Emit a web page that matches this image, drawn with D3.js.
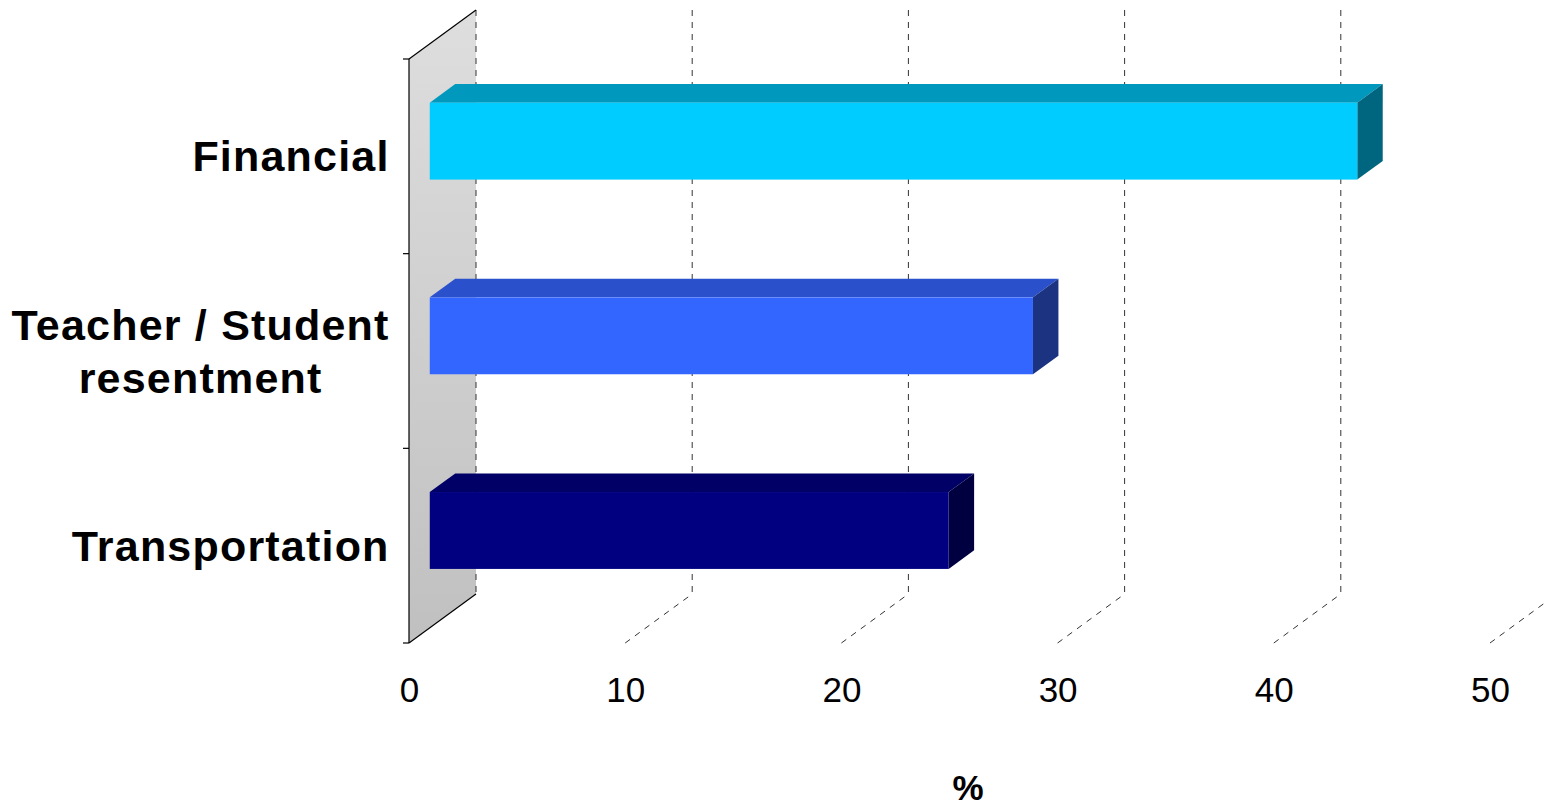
<!DOCTYPE html>
<html>
<head>
<meta charset="utf-8">
<script src="https://cdn.jsdelivr.net/npm/d3@7"></script>
<style>
  html, body { margin: 0; padding: 0; background: #ffffff; }
  svg { display: block; }
</style>
</head>
<body>
<svg id="chart" width="1548" height="808"></svg>
<script>
// ---- data ----
const categories = ["Financial", "Teacher / Student\nresentment", "Transportation"];
const values = [42.9, 27.9, 24];
const tickValues = [0, 10, 20, 30, 40, 50];
const axisTitle = "%";
const frontColors = ["#00CCFF", "#3366FF", "#000080"];
const topColors = ["#0099BD", "#2A50CC", "#000066"];
const sideColors = ["#006680", "#1B3380", "#000040"];

// ---- layout ----
const svg = d3.select("#chart");
const depth = { dx: 67, dy: -49 };
const f0 = 0.31, f1 = 0.69;
const plotTop = 59, plotBottom = 643;

const x = d3.scaleLinear().domain([0, 50]).range([409, 1490]);
const y = d3.scaleBand().domain(categories).range([plotTop, plotBottom]).padding(0);
const barH = y.bandwidth() * 0.395;

const defs = svg.append("defs");
const grad = defs.append("linearGradient").attr("id", "wallGrad")
  .attr("x1", 0).attr("y1", 0).attr("x2", 0).attr("y2", 1);
grad.append("stop").attr("offset", "0%").attr("stop-color", "#dedede");
grad.append("stop").attr("offset", "100%").attr("stop-color", "#c0c0c0");

// ---- left wall ----
const x0 = x(0);
svg.append("path")
  .attr("d", `M${x0},${plotTop} L${x0 + depth.dx},${plotTop + depth.dy} L${x0 + depth.dx},${plotBottom + depth.dy} L${x0},${plotBottom} Z`)
  .attr("fill", "url(#wallGrad)")
  .attr("stroke", "none");

// gridlines (back vertical + floor diagonal)
const grid = svg.append("g").attr("fill", "none").attr("stroke", "#333")
  .attr("stroke-width", 1).attr("stroke-dasharray", "6,6");
tickValues.forEach(v => {
  const bx = x(v) + depth.dx;
  grid.append("line")
    .attr("x1", bx).attr("y1", plotTop + depth.dy)
    .attr("x2", bx).attr("y2", plotBottom + depth.dy);
  if (v > 0) {
    grid.append("line")
      .attr("x1", x(v)).attr("y1", plotBottom)
      .attr("x2", bx).attr("y2", plotBottom + depth.dy);
  }
});

// wall edges
const wallEdges = svg.append("g").attr("stroke", "#000").attr("stroke-width", 1.2).attr("fill", "none");
wallEdges.append("line").attr("x1", x0).attr("y1", plotTop).attr("x2", x0).attr("y2", plotBottom);
wallEdges.append("line").attr("x1", x0).attr("y1", plotTop).attr("x2", x0 + depth.dx).attr("y2", plotTop + depth.dy);
wallEdges.append("line").attr("x1", x0).attr("y1", plotBottom).attr("x2", x0 + depth.dx).attr("y2", plotBottom + depth.dy);

// left axis ticks at band boundaries
const boundaries = categories.map(c => y(c)).concat([plotBottom]);
svg.append("g").selectAll("line").data(boundaries).join("line")
  .attr("x1", x0 - 6).attr("x2", x0)
  .attr("y1", d => d).attr("y2", d => d)
  .attr("stroke", "#000").attr("stroke-width", 1.2);

// ---- bars ----
const ox = f0 * depth.dx, oy = f0 * depth.dy;
const bdx = (f1 - f0) * depth.dx, bdy = (f1 - f0) * depth.dy;
const bars = svg.append("g");
categories.forEach((c, i) => {
  const cy = y(c) + y.bandwidth() / 2 + oy;
  const xl = x(0) + ox, xr = x(values[i]) + ox;
  const yt = cy - barH / 2, yb = cy + barH / 2;
  bars.append("path")
    .attr("d", `M${xl},${yt} L${xl + bdx},${yt + bdy} L${xr + bdx},${yt + bdy} L${xr},${yt} Z`)
    .attr("fill", topColors[i]);
  bars.append("path")
    .attr("d", `M${xr},${yt} L${xr + bdx},${yt + bdy} L${xr + bdx},${yb + bdy} L${xr},${yb} Z`)
    .attr("fill", sideColors[i]);
  bars.append("rect")
    .attr("x", xl).attr("y", yt).attr("width", xr - xl).attr("height", barH)
    .attr("fill", frontColors[i]);
});

// ---- category labels ----
const labelRight = 389;
const lineH = 53;
const ls = 1.2;
categories.forEach(c => {
  const lines = c.split("\n");
  const t = svg.append("text")
    .attr("font-family", "'Liberation Sans', Arial, sans-serif")
    .attr("font-weight", "bold")
    .attr("font-size", 43)
    .attr("letter-spacing", ls)
    .attr("fill", "#000")
    .attr("text-anchor", "middle");
  const cy = y(c) + y.bandwidth() / 2;
  const firstBase = cy + 15 - (lines.length - 1) * lineH / 2;
  lines.forEach((ln, k) => {
    t.append("tspan").attr("x", 0).attr("y", firstBase + k * lineH).text(ln);
  });
  const w = t.node().getBBox().width - ls;
  t.selectAll("tspan").attr("x", labelRight - w / 2);
});

// ---- x axis labels ----
const axis = d3.axisBottom(x).tickValues(tickValues).tickSize(0).tickPadding(0).tickFormat(d3.format("d"));
const ax = svg.append("g").attr("transform", `translate(0,${plotBottom + 34})`).call(axis);
ax.select(".domain").remove();
ax.selectAll("text")
  .attr("font-family", "'Liberation Sans', Arial, sans-serif")
  .attr("font-size", 35)
  .attr("fill", "#000")
  .attr("dy", "0.71em")
  .attr("y", 0);

// axis title
svg.append("text")
  .attr("x", 968).attr("y", 800)
  .attr("text-anchor", "middle")
  .attr("font-family", "'Liberation Sans', Arial, sans-serif")
  .attr("font-weight", "bold")
  .attr("font-size", 35)
  .attr("fill", "#000")
  .text(axisTitle);
</script>
</body>
</html>
